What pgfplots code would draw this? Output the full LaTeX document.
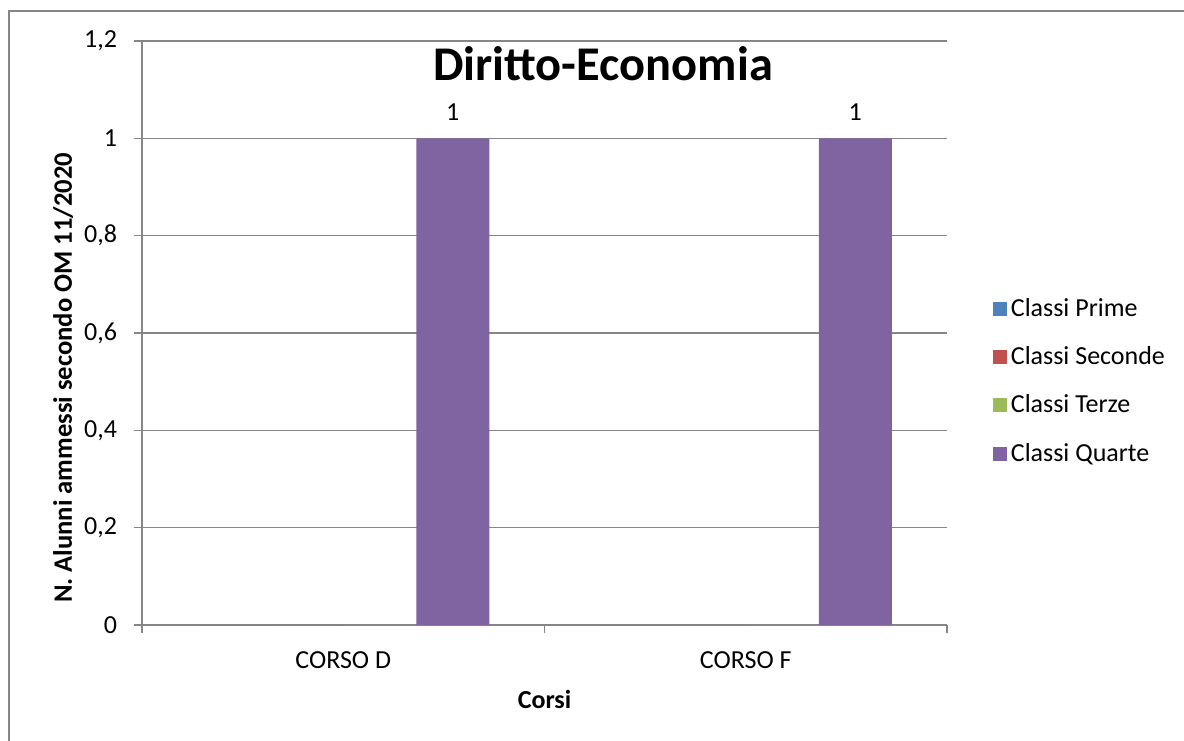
\documentclass[border=0pt]{standalone}
\usepackage{pgfplots}
\pgfplotsset{compat=1.18}
\usepackage{fontspec}
\setmainfont{Carlito}
\definecolor{cPrime}{HTML}{4F81BD}
\definecolor{cSeconde}{HTML}{C0504D}
\definecolor{cTerze}{HTML}{9BBB59}
\definecolor{cQuarte}{HTML}{8064A2}
\definecolor{gridgray}{HTML}{868686}
\begin{document}
\begin{tikzpicture}
\useasboundingbox (0,0) rectangle (592pt,370pt);
\draw[gridgray, line width=1pt] (4.5pt,-10pt) -- (4.5pt,364.5pt) -- (600pt,364.5pt);
\begin{axis}[
  at={(71pt,57.5pt)}, anchor=south west,
  scale only axis, width=402.5pt, height=292pt,
  xmin=-0.5, xmax=1.5, ymin=0, ymax=1.2,
  ybar, bar width=0.1814,
  axis x line*=bottom, axis y line*=left,
  axis line style={gridgray, line width=0.6pt},
  xtick={0,1}, xticklabels={CORSO D, CORSO F},
  major x tick style={draw=none},
  extra x ticks={-0.5,0.5,1.5}, extra x tick labels={},
  extra x tick style={major tick length=4pt, tick align=outside, major x tick style={draw=gridgray, line width=0.6pt}},
  ytick={0,0.2,0.4,0.6,0.8,1,1.2},
  yticklabel style={/pgf/number format/use comma, /pgf/number format/fixed},
  /pgf/number format/assume math mode=true,
  ymajorgrids, grid style={gridgray, line width=0.6pt},
  tick align=outside, major tick length=4pt,
  tick style={gridgray, line width=0.6pt},
  tick label style={font=\fontsize{13}{15}\selectfont, black},
  xticklabel style={yshift=-6pt},
  yticklabel style={xshift=-5pt},
  xlabel={\textbf{Corsi}},
  xlabel style={at={(axis description cs:0.5,-0.128)}, anchor=center, font=\fontsize{13}{15}\selectfont},
  ylabel={\textbf{N. Alunni ammessi secondo OM 11/2020}},
  ylabel style={at={(axis description cs:-0.0981,0.423)}, anchor=center, font=\fontsize{13.3}{15}\selectfont},
  title={\textbf{Diritto-Economia}},
  title style={at={(axis description cs:0.5727,0.9125)}, anchor=base, font=\fontsize{24.2}{29}\selectfont},
  legend style={at={(axis description cs:1.0565,0.567)}, anchor=north west, draw=none, fill=none,
    font=\fontsize{13}{15}\selectfont, inner sep=0pt, row sep=9.6pt,
    /tikz/every even column/.append style={column sep=0pt}},
  legend cell align=left,
  legend image code/.code={\fill[#1] (-1.5pt,-3.5pt) rectangle (5.5pt,3.5pt);},
]
\addplot[fill=cPrime, draw=none, bar shift=-0.2721] coordinates {(0,0) (1,0)};
\addplot[fill=cSeconde, draw=none, bar shift=-0.0907] coordinates {(0,0) (1,0)};
\addplot[fill=cTerze, draw=none, bar shift=0.0907] coordinates {(0,0) (1,0)};
\addplot[fill=cQuarte, draw=none, bar shift=0.2721,
  nodes near coords, nodes near coords style={black, font=\fontsize{13}{15}\selectfont, yshift=5.5pt},
  point meta=explicit symbolic] coordinates {(0,1) [1] (1,1) [1]};
\legend{Classi Prime, Classi Seconde, Classi Terze, Classi Quarte}
\end{axis}
\end{tikzpicture}
\end{document}
